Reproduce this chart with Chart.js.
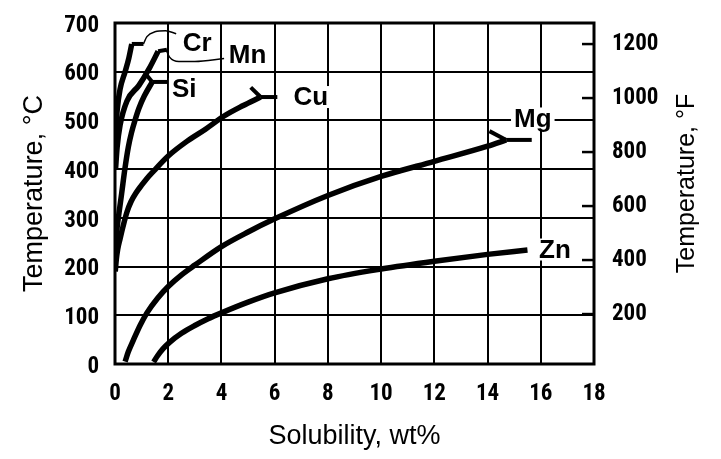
<!DOCTYPE html>
<html><head><meta charset="utf-8">
<script src="https://cdn.jsdelivr.net/npm/chart.js@4.4.1/dist/chart.umd.min.js"></script>
<style>html,body{margin:0;padding:0;background:#fff}#wrap{width:721px;height:459px}</style>
</head><body><div id="wrap"><canvas id="c" width="721" height="459"></canvas></div>
<script>
// Solubility (wt%) vs temperature (°C)
const crCurve = [[0.02,470],[0.08,520],[0.19,564],[0.38,600],[0.52,628],[0.63,657]];
const crTail  = [[0.63,657],[1.07,657]];
const mnCurve = [[0.02,400],[0.08,445],[0.19,490],[0.45,540],[0.9,572],[1.3,608],[1.62,642]];
const mnTail  = [[1.62,642],[1.95,645]];
const siCurve = [[0.02,240],[0.08,280],[0.15,310],[0.25,350],[0.37,400],[0.5,445],[0.62,475],[0.75,500],[0.9,525],[1.1,550],[1.4,579]];
const siArm   = [[1.4,579],[1.17,594]];
const siTail  = [[1.4,579],[1.96,579]];
const cuCurve = [[0.01,190],[0.05,215],[0.1,235],[0.19,257],[0.3,282],[0.45,312],[0.6,333],[0.8,352],[1.0,367],[1.2,381],[1.45,396],[2.0,427],[2.7,457],[3.4,482],[4.1,509],[4.8,530],[5.47,548]];
const cuArm   = [[5.47,548],[5.1,568]];
const cuTail  = [[5.47,548],[6.1,548]];
const mgCurve = [[0.38,5],[0.5,25],[0.69,49],[0.95,80],[1.2,105],[1.6,135],[2,159],[2.5,183],[3,203],[4,241],[5,271],[6,298],[8,346],[10,385],[12,416],[14,447],[14.7,460]];
const mgArm   = [[14.7,460],[14.07,478]];
const mgTail  = [[14.7,460],[15.66,460]];
const znCurve = [[1.45,4],[1.6,17],[1.8,31],[2.04,44],[2.5,63],[3,79],[3.5,93],[4,105],[5,127],[6,146],[8,175],[10,195],[12,211],[14,225],[15.5,234]];
const crLeader = [[1.07,657],[1.2,672],[1.5,682],[1.9,684],[2.3,678]];
const mnLeader = [[1.92,645],[2.05,630],[2.4,621],[3.0,621],[4.1,627]];
const curveLabels = [
  {text:'Cr', x:3.09, y:659},
  {text:'Mn', x:4.98, y:634},
  {text:'Si', x:2.6,  y:564},
  {text:'Cu', x:7.36, y:548},
  {text:'Mg', x:15.7, y:504},
  {text:'Zn', x:16.53,y:235}
];
const xTickStep = 2, yTickStep = 100;
const fTicks = [200,400,600,800,1000,1200];

const toPts = a => a.map(p => ({x:p[0], y:p[1]}));
function curve(d){ return {data:toPts(d), showLine:true, borderColor:'#000', borderWidth:5.5, pointRadius:0, cubicInterpolationMode:'monotone', fill:false, borderCapStyle:'butt'}; }
function seg(d){ return {data:toPts(d), showLine:true, borderColor:'#000', borderWidth:4, pointRadius:0, tension:0, fill:false}; }
function thin(d){ return {data:toPts(d), showLine:true, borderColor:'#000', borderWidth:1.5, pointRadius:0, cubicInterpolationMode:'monotone', fill:false}; }

const tickFont = {family:"'Roboto Condensed','Open Sans Condensed',sans-serif", size:23, weight:'bold'};
const titleFont = {family:"'Liberation Sans',Arial,sans-serif", size:27, weight:'normal'};
const labelFont = "bold 26px 'Liberation Sans', Arial, sans-serif";

const deco = {
  id:'deco',
  beforeDatasetsDraw(chart){
    const {ctx, chartArea:a} = chart;
    ctx.save();
    ctx.strokeStyle='#000'; ctx.lineWidth=3;
    ctx.strokeRect(a.left, a.top, a.right-a.left, a.bottom-a.top);
    ctx.restore();
  },
  afterDatasetsDraw(chart){
    const {ctx, chartArea:a, scales} = chart;
    ctx.save();
    const s2 = scales.y2;
    ctx.strokeStyle='#000'; ctx.lineWidth=2.5;
    s2.ticks.forEach(t=>{
      const py = s2.getPixelForValue(t.value);
      ctx.beginPath(); ctx.moveTo(a.right-12, py); ctx.lineTo(a.right, py); ctx.stroke();
    });
    ctx.font = labelFont; ctx.textAlign='center'; ctx.textBaseline='middle';
    curveLabels.forEach(l=>{
      const px = scales.x.getPixelForValue(l.x), py = scales.y.getPixelForValue(l.y);
      const w = ctx.measureText(l.text).width;
      ctx.fillStyle='#fff';
      ctx.fillRect(px-w/2-3, py-11, w+6, 22);
      ctx.fillStyle='#000';
      ctx.fillText(l.text, px, py+1);
    });
    ctx.translate(s2.right-34, (a.top+a.bottom)/2 - 10);
    ctx.rotate(-Math.PI/2);
    ctx.font = "25px 'Liberation Sans', Arial, sans-serif";
    ctx.fillText('Temperature, °F', 0, 0);
    ctx.restore();
  }
};

Chart.defaults.color = '#000';
new Chart(document.getElementById('c'), {
  type:'scatter',
  data:{datasets:[
    curve(crCurve), seg(crTail),
    curve(mnCurve), seg(mnTail),
    curve(siCurve), seg(siArm), seg(siTail),
    curve(cuCurve), seg(cuArm), seg(cuTail),
    curve(mgCurve), seg(mgArm), seg(mgTail),
    curve(znCurve),
    thin(crLeader), thin(mnLeader)
  ]},
  options:{
    responsive:false, animation:false, devicePixelRatio:1,
    layout:{padding:{top:23,left:0,right:0,bottom:0}},
    plugins:{legend:{display:false}, tooltip:{enabled:false}},
    scales:{
      x:{type:'linear', position:'bottom', min:0, max:18,
        ticks:{stepSize:xTickStep, font:tickFont, padding:16, color:'#000'},
        grid:{color:'#000', lineWidth:2, drawTicks:false},
        border:{display:false},
        title:{display:true, text:'Solubility, wt%', font:titleFont, color:'#000', padding:{top:0,bottom:6}},
        afterFit(s){ s.height = 95; s.paddingLeft = 0; s.paddingRight = 0; }
      },
      y:{type:'linear', position:'left', min:0, max:700,
        ticks:{stepSize:yTickStep, font:tickFont, padding:16, color:'#000', labelOffset:3},
        grid:{color:'#000', lineWidth:2, drawTicks:false},
        border:{display:false},
        title:{display:true, text:'Temperature, °C', font:titleFont, color:'#000', padding:{top:18,bottom:0}},
        afterFit(s){ s.width = 115; s.paddingTop = 0; s.paddingBottom = 0; }
      },
      y2:{type:'linear', position:'right', min:15, max:1278,
        ticks:{font:tickFont, padding:18, color:'#000', callback:v=>String(v)},
        afterBuildTicks(s){ s.ticks = fTicks.map(v=>({value:v})); },
        grid:{display:false, drawTicks:false},
        border:{display:false},
        afterFit(s){ s.width = 127; s.paddingTop = 0; s.paddingBottom = 0; }
      }
    }
  },
  plugins:[deco]
});
</script></body></html>
